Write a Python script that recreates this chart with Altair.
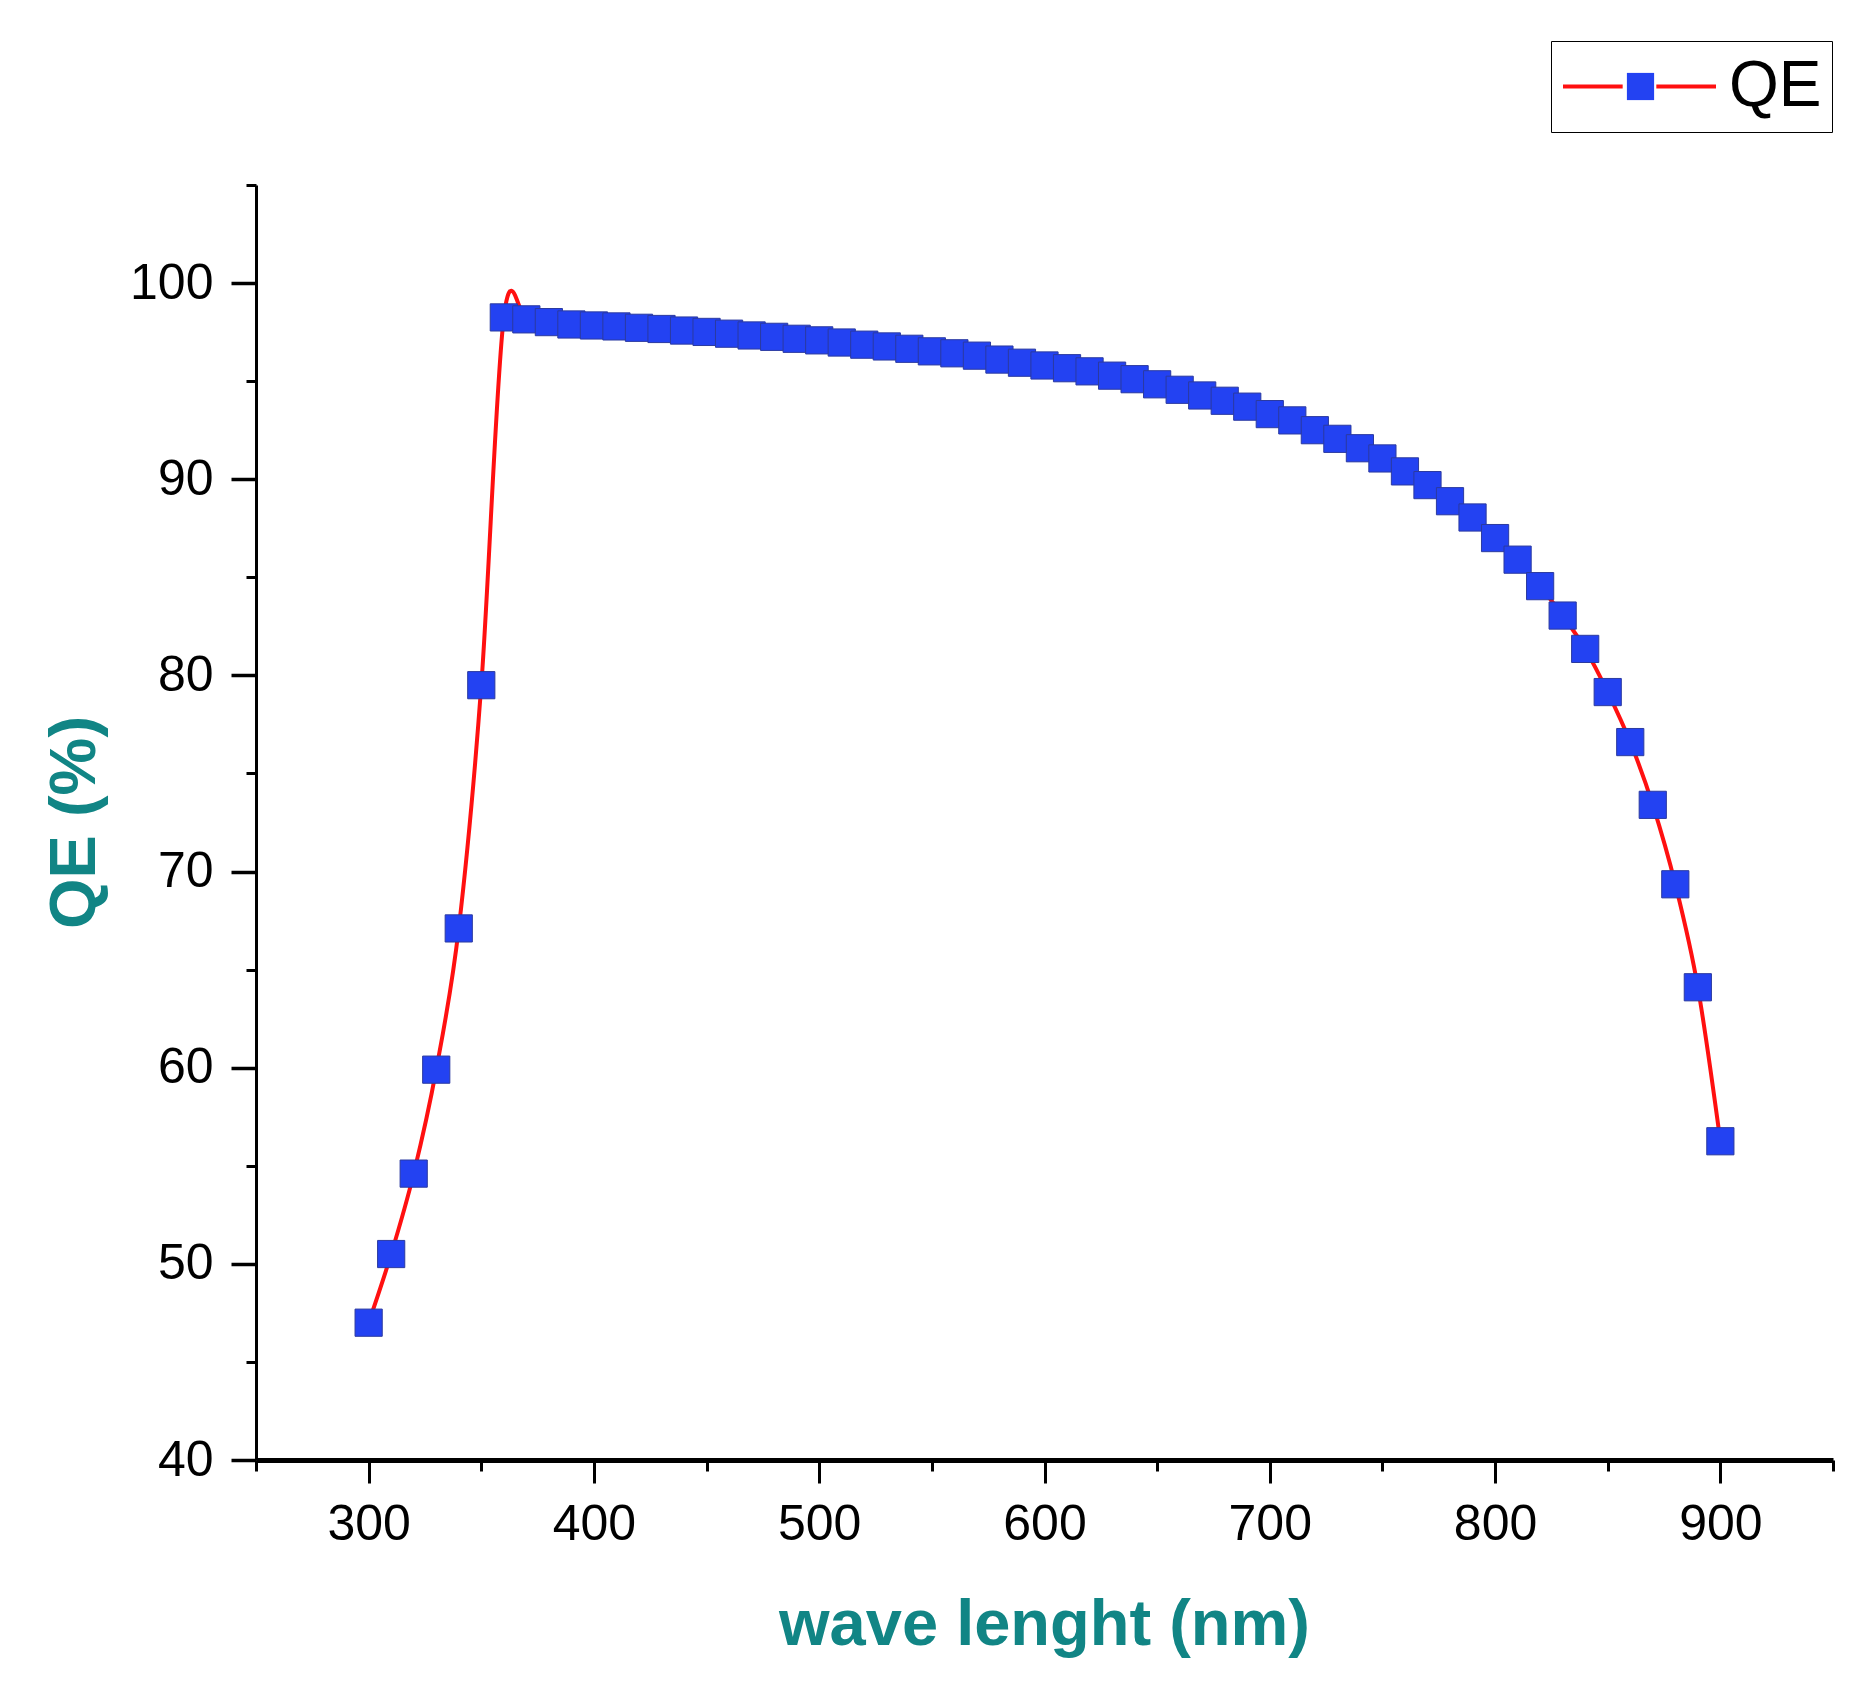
import pandas as pd
import altair as alt

# wavelength (nm) and quantum efficiency (%)
wavelength = [300, 310, 320, 330, 340, 350, 360, 370, 380, 390,
              400, 410, 420, 430, 440, 450, 460, 470, 480, 490,
              500, 510, 520, 530, 540, 550, 560, 570, 580, 590,
              600, 610, 620, 630, 640, 650, 660, 670, 680, 690,
              700, 710, 720, 730, 740, 750, 760, 770, 780, 790,
              800, 810, 820, 830, 840, 850, 860, 870, 880, 890,
              900]
qe = [47.0, 50.5, 54.6, 59.9, 67.1, 79.5, 98.25, 98.15, 98.01, 97.89,
      97.84, 97.79, 97.72, 97.66, 97.58, 97.51, 97.42, 97.33, 97.26, 97.16,
      97.08, 96.97, 96.86, 96.77, 96.65, 96.52, 96.42, 96.30, 96.10, 95.94,
      95.80, 95.66, 95.50, 95.28, 95.10, 94.84, 94.56, 94.27, 94.00, 93.70,
      93.32, 93.00, 92.50, 92.06, 91.58, 91.06, 90.40, 89.70, 88.88, 88.05,
      87.00, 85.90, 84.55, 83.05, 81.35, 79.15, 76.60, 73.40, 69.35, 64.10,
      56.25]

major_x = [300, 400, 500, 600, 700, 800, 900]
minor_x = [250, 350, 450, 550, 650, 750, 850, 950]
major_y = [40, 50, 60, 70, 80, 90, 100]
minor_y = [45, 55, 65, 75, 85, 95, 105]

df = pd.DataFrame({'wl': wavelength, 'qe': qe})
df['series'] = 'QE'
df['marker'] = 'QE'

font = 'Liberation Sans'
teal = '#118585'
red = '#ff1010'
blue = '#2342f2'

x_scale = alt.Scale(domain=[250, 950], nice=False, zero=False)
y_scale = alt.Scale(domain=[40, 105], nice=False, zero=False)

line = alt.Chart(df).mark_line(interpolate='cardinal', strokeWidth=4).encode(
    x=alt.X('wl:Q', scale=x_scale, axis=alt.Axis(
        values=major_x, orient='bottom', grid=False,
        domainColor='black', domainWidth=5,
        tickColor='black', tickWidth=3, tickSize=23,
        labelFont=font, labelFontSize=50, labelColor='black', labelPadding=16,
        title='wave lenght (nm)', titleFont=font, titleFontSize=65,
        titleFontWeight='bold', titleColor=teal,
        titleX=788, titleY=184, titleAlign='center', titleBaseline='alphabetic')),
    y=alt.Y('qe:Q', scale=y_scale, axis=alt.Axis(
        values=major_y, orient='left', grid=False,
        domainColor='black', domainWidth=3,
        tickColor='black', tickWidth=3.5, tickSize=25,
        labelFont=font, labelFontSize=50, labelColor='black', labelPadding=18,
        title='QE (%)', titleFont=font, titleFontSize=65,
        titleFontWeight='bold', titleColor=teal, titleAngle=270,
        titleX=-162, titleY=637, titleAlign='center', titleBaseline='alphabetic')),
    color=alt.Color('series:N', scale=alt.Scale(range=[red]), legend=alt.Legend(
        title=None, orient='none', legendX=1295, legendY=-144,
        symbolType='M-1,0L-0.22,0M0.22,0L1,0', symbolSize=23409,
        symbolStrokeWidth=4, symbolStrokeColor=red, symbolFillColor='transparent',
        clipHeight=71, padding=10, strokeColor='black',
        labelFont=font, labelFontSize=64, labelColor='black', labelOffset=11)),
)

points = alt.Chart(df).mark_point(
    shape='square', filled=True, fill=blue, stroke='#2b3aa0', strokeWidth=1,
    size=740, opacity=1
).encode(
    x=alt.X('wl:Q', scale=x_scale, axis=alt.Axis(
        values=minor_x, orient='bottom', grid=False, domain=False, labels=False,
        tickColor='black', tickWidth=3, tickSize=11, title=None)),
    y=alt.Y('qe:Q', scale=y_scale, axis=alt.Axis(
        values=minor_y, orient='left', grid=False, domain=False, labels=False,
        tickColor='black', tickWidth=3, tickSize=10, title=None)),
    shape=alt.Shape('marker:N', scale=alt.Scale(range=['square']), legend=alt.Legend(
        title=None, orient='none', legendX=1360, legendY=-144,
        symbolSize=740, symbolFillColor=blue, symbolStrokeColor='#2b3aa0',
        symbolStrokeWidth=1, clipHeight=71, padding=10,
        labelExpr="''", labelFontSize=10)),
)

chart = alt.layer(line, points).resolve_axis(
    x='independent', y='independent'
).properties(
    width=1577, height=1275,
    autosize=alt.AutoSizeParams(type='none'),
    padding={'left': 248, 'top': 177, 'right': 27, 'bottom': 226},
    background='white'
).configure_view(stroke=None)

chart.save("out.html", embed_options={"renderer": "svg", "actions": False})
